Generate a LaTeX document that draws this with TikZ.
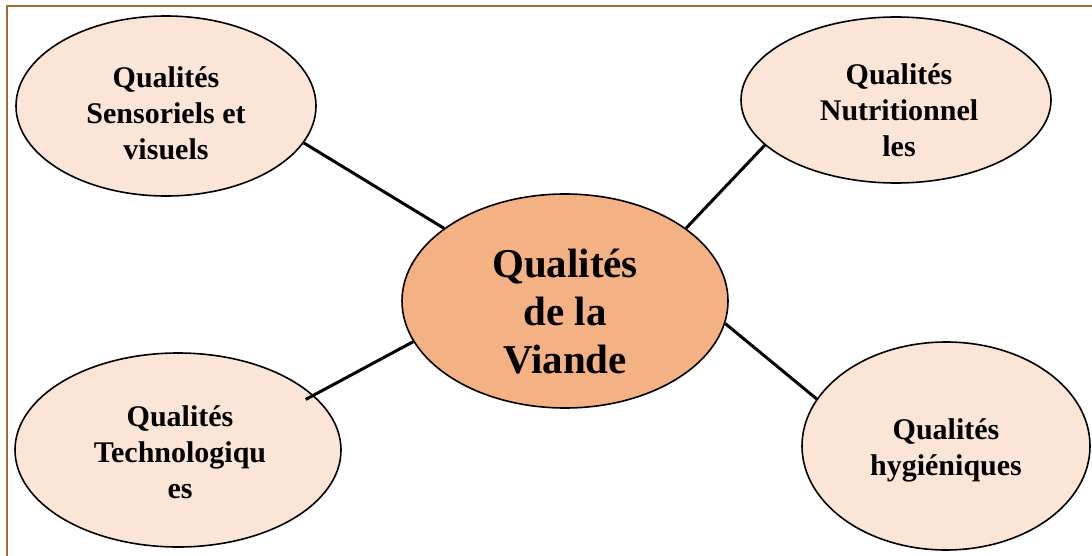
\documentclass[tikz,border=0pt]{standalone}
\usepackage{fontspec}
\setmainfont{Liberation Serif}
\usetikzlibrary{shapes.geometric}
\definecolor{frameBrown}{HTML}{A46B35}
\definecolor{paleOrange}{HTML}{FBE5D6}
\definecolor{meatOrange}{HTML}{F4B183}
\tikzset{
  bubble/.style={ellipse, draw=black, line width=1.6pt, fill=paleOrange, inner sep=0pt},
  hub/.style={bubble, fill=meatOrange},
  smalltext/.style={align=center, font=\bfseries\fontsize{30}{36}\selectfont, inner sep=0pt},
  bigtext/.style={align=center, font=\bfseries\fontsize{41}{48}\selectfont, inner sep=0pt},
  link/.style={line width=3pt, black}
}
\begin{document}
\begin{tikzpicture}[x=1pt, y=-1pt]
  \useasboundingbox (0,0) rectangle (1092,556);
  % page frame
  \draw[frameBrown, line width=2.6pt] (7,560) -- (7,6) -- (1096,6);

  % the five bubbles
  \node[bubble, minimum width=300pt, minimum height=180pt] (tl) at (166,106) {};
  \node[bubble, minimum width=310pt, minimum height=166pt] (tr) at (896,100) {};
  \node[bubble, minimum width=326pt, minimum height=194pt] (bl) at (178,450) {};
  \node[bubble, minimum width=288pt, minimum height=208pt] (br) at (946,446) {};
  \node[hub, minimum width=326pt, minimum height=214pt] (c) at (565,301) {};

  % spokes from the hub to each bubble
  \draw[link] (tl.-15.7) -- (c.149.3);
  \draw[link] (tr.199.8) -- (c.31.1);
  \draw[link, shorten <=-9pt] (bl.22) -- (c.195.7);
  \draw[link] (br.160.2) -- (c.352.2);

  % labels
  \node[smalltext] (tlt) at (166,113) {Qualités\\Sensoriels et\\visuels};
  \node[smalltext] (trt) at (899,110) {Qualités\\Nutritionnel\\les};
  \node[smalltext] (blt) at (180,452) {Qualités\\Technologiqu\\es};
  \node[smalltext] (brt) at (946,450) {Qualités\\hygiéniques};
  \node[bigtext] (ct) at (565,312) {Qualités\\de la\\Viande};
\end{tikzpicture}
\end{document}
